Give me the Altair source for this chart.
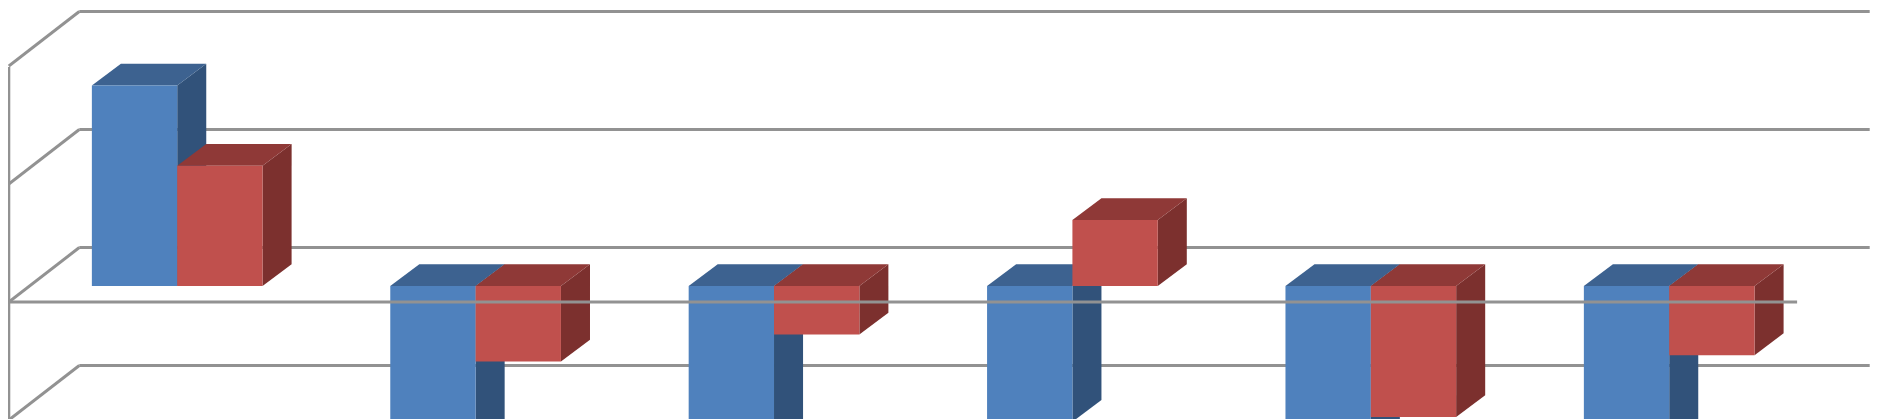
import altair as alt
import pandas as pd

# Values, in gridline units
categories = [0, 1, 2, 3, 4, 5]
series_blue = [1.70, -1.50, -1.50, -1.15, -1.50, -1.50]
series_red = [1.02, -0.64, -0.41, 0.56, -1.11, -0.585]
gridline_levels = [-1, 0, 1, 2]

# Oblique projection of the 3-D plot box
DX, DY = 0.2433, 0.462
D0, D1 = 0.31, 0.71
GAP, BAR = 0.210, 0.286
PX_X, PX_Y = 298.4, 118.0
W, H = 1864, 411
XDOM = [(8 - 6.7) / PX_X, (8 + W - 6.7) / PX_X]
YDOM = [(303 - 419) / PX_Y, (303 - 8) / PX_Y]
WALL_X = 0.007
LINE_SHIFT = 0.008

LINE = "#929292"
COL = {
    "blue": ("#4F81BD", "#31527A", "#3D6290"),
    "red": ("#C0504D", "#7C302E", "#8F3937"),
}


def X(field):
    return alt.X(field, type="quantitative", scale=alt.Scale(domain=XDOM, nice=False, zero=False), axis=None)


def Y(field):
    return alt.Y(field, type="quantitative", scale=alt.Scale(domain=YDOM, nice=False, zero=False), axis=None)


def sx(c, d):
    return c + DX * d


def sy(v, d):
    return v + DY * d


def faces(values, offset):
    front, side, top = [], [], []
    for c, v in zip(categories, values):
        left = c + GAP + offset * BAR
        right = left + BAR
        hi, lo = max(v, 0), min(v, 0)
        front.append(dict(x=sx(left, D0), x2=sx(right, D0), y=sy(hi, D0), y2=sy(lo, D0)))
        for d in (D0, D1):
            side.append(dict(bar=c, x=sx(right, d), y=sy(hi, d), y2=sy(lo, d)))
            top.append(dict(bar=c, x=sx(left, d), x2=sx(right, d), y=sy(hi, d)))
    return pd.DataFrame(front), pd.DataFrame(side), pd.DataFrame(top)


def bar_layers(values, offset, name):
    front, side, top = faces(values, offset)
    f, s, t = COL[name]
    back = [
        alt.Chart(side).mark_area(color=s, orient="vertical", clip=True, interpolate="linear").encode(
            x=X("x"), y=Y("y"), y2=alt.Y2("y2"), detail="bar:N"
        ),
        alt.Chart(top).mark_area(color=t, orient="horizontal", clip=True, interpolate="linear").encode(
            y=Y("y"), x=X("x"), x2=alt.X2("x2"), detail="bar:N"
        ),
    ]
    face = alt.Chart(front).mark_rect(color=f, clip=True).encode(
        x=X("x"), x2=alt.X2("x2"), y=Y("y"), y2=alt.Y2("y2")
    )
    return back + [face]


def rules(rows):
    return alt.Chart(pd.DataFrame(rows)).mark_rule(color=LINE, strokeWidth=3, clip=True).encode(
        x=X("x"), x2=alt.X2("x2"), y=Y("y"), y2=alt.Y2("y2")
    )


back_lines = []
for k in gridline_levels:
    level = k + LINE_SHIFT
    back_lines.append(dict(x=sx(0, 1), x2=sx(len(categories), 1), y=sy(level, 1), y2=sy(level, 1)))
    back_lines.append(dict(x=WALL_X, x2=sx(0, 1), y=sy(level, 0), y2=sy(level, 1)))
back_lines.append(dict(x=WALL_X, x2=WALL_X, y=sy(min(gridline_levels), 0), y2=sy(max(gridline_levels), 0)))

zero_line = [dict(x=WALL_X, x2=len(categories), y=LINE_SHIFT, y2=LINE_SHIFT)]

layers = [rules(back_lines)] + bar_layers(series_blue, 0, "blue") + bar_layers(series_red, 1, "red") + [rules(zero_line)]

chart = (
    alt.layer(*layers)
    .properties(width=W, height=H, padding=0, background="white", autosize=alt.AutoSizeParams(type="none"))
    .configure_view(strokeWidth=0)
)

chart.save("out.html", embed_options={"renderer": "svg", "actions": False})
